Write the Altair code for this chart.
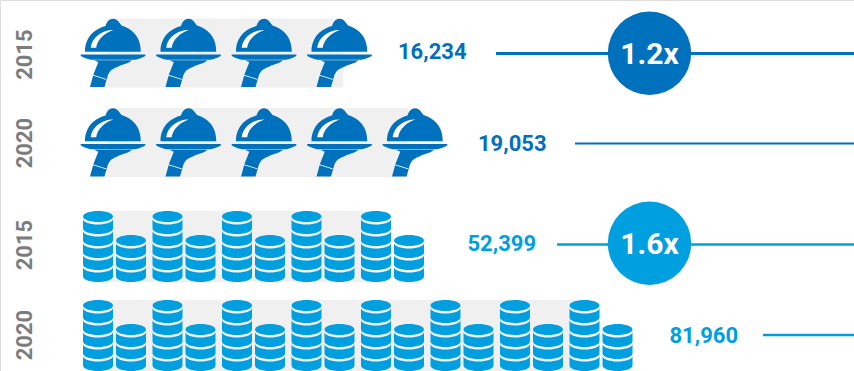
import altair as alt
import pandas as pd

# Figures shown beside each row
years = ["2015", "2020", "2015", "2020"]
values = [16234, 19053, 52399, 81960]
value_labels = ["16,234", "19,053", "52,399", "81,960"]
multiples = ["1.2x", "1.6x"]

# Pictogram rows: icon counts and how far the grey track runs, in icon units
dish_icons = [4, 5]
dish_track_start = [-0.08, -0.08]
dish_track_end = [3.05, 3.91]
stack_pairs = [5, 8]
stack_track_end = [4.0, 7.0]

DARK = "#0071BC"
LIGHT = "#009FDF"
TRACK = "#F0F0F0"
GREY = "#7C7C7C"
FONT = "Roboto"
W, H = 854, 371

# Row placement shared by the pictograms
row_scale = alt.Scale(domain=[0, 1, 2, 3], range=[53, 142.5, 246.5, 335.5])
dish_x = alt.Scale(domain=[0, 4], range=[113, 415])
stack_x = alt.Scale(domain=[0, 7], range=[98, 584.5])

# Symbol paths are in pixels around the icon centre: size=4 gives a unit scale
UNIT = 4
DISH = (
    "M-28,-1.3 C-28.2,-9 -25,-16 -20,-20.5 C-16,-24 -12,-25.8 -7.5,-27 "
    "C-7,-29.5 -5.5,-32 -3,-33.5 C-1,-34.4 1.5,-34.4 3.5,-33.3 "
    "C5.5,-32 7,-29.5 8.5,-27.5 C13,-26 18,-23.5 21.5,-19.5 C25.5,-15 27.9,-8.5 27.7,-1.3 Z "
    "M-32.3,1.6 L32.3,1.6 L32.3,3 C28,5 25,6.5 22,6.8 L-22,6.8 C-25,6.5 -28,5 -32.3,3 Z "
    "M-19,7.2 L19,7.2 C17,9 14,10.5 11,11.3 C8,12.2 6,12.8 4.5,14 C1.5,15 -1.5,16.5 -3,18.5 "
    "C-4.5,20.5 -5.2,22 -5.6,24 L-8.5,34 L-23,34 L-19.5,21.3 L-14.7,9.3 Z"
)
DISH_SHINE = (
    "M-22.3,-5.3 L-16.8,-5.3 C-15.5,-14 -8,-20 0.3,-23 C-9,-23.5 -21,-17 -22.3,-5.3 Z "
    "M-20.2,21.8 L-6.6,26 L-6.9,26.7 L-20.5,22.5 Z"
)


def ellipse(cy, rx=15.0, ry=5.5):
    k = 0.5523
    return (
        f"M{-rx},{cy} C{-rx},{cy - k * ry} {-k * rx},{cy - ry} 0,{cy - ry} "
        f"C{k * rx},{cy - ry} {rx},{cy - k * ry} {rx},{cy} "
        f"C{rx},{cy + k * ry} {k * rx},{cy + ry} 0,{cy + ry} "
        f"C{-k * rx},{cy + ry} {-rx},{cy + k * ry} {-rx},{cy} Z"
    )


def band(cy, rx=15.0, ry=5.5, gap=2.5, depth=9.5):
    k = 0.5523
    top, low = cy + gap, cy + gap + depth
    return (
        f"M{-rx},{top} C{-rx},{top + k * ry} {-k * rx},{top + ry} 0,{top + ry} "
        f"C{k * rx},{top + ry} {rx},{top + k * ry} {rx},{top} L{rx},{low} "
        f"C{rx},{low + k * ry} {k * rx},{low + ry} 0,{low + ry} "
        f"C{-k * rx},{low + ry} {-rx},{low + k * ry} {-rx},{low} Z"
    )


def stack(first, bands, pitch=12.0):
    parts = [ellipse(first)]
    parts += [band(first + i * pitch) for i in range(bands)]
    return " ".join(parts)


TALL_STACK = stack(-30.0, 5)
SHORT_STACK = stack(-6.0, 3)

# Tables for the pictograms
track_dishes = pd.DataFrame(
    {"row": [0, 1], "start": dish_track_start, "end": dish_track_end}
)
track_stacks = pd.DataFrame(
    {"row": [2, 3], "start": [0, 0], "end": stack_track_end}
)
dishes = pd.DataFrame(
    [{"row": r, "icon": i} for r, n in enumerate(dish_icons) for i in range(n)]
)
tall = pd.DataFrame(
    [{"row": r + 2, "pair": i} for r, n in enumerate(stack_pairs) for i in range(n)]
)
short = pd.DataFrame(
    [{"row": r + 2, "pair": i + 0.475} for r, n in enumerate(stack_pairs) for i in range(n)]
)

# Annotation anchors, in pixels
labels = pd.DataFrame(
    {
        "text": value_labels,
        "value": values,
        "x": [398, 478, 467.5, 669.5],
        "y": [51.5, 143.5, 244, 336],
        "color": [DARK, DARK, LIGHT, LIGHT],
    }
)
leaders = pd.DataFrame(
    {
        "x": [496, 575, 557, 763],
        "x2": [W, W, W, W],
        "y": [53.5, 143.5, 244.5, 335],
        "w": [3, 2, 2.5, 2.5],
        "color": [DARK, DARK, LIGHT, LIGHT],
    }
)
badges = pd.DataFrame(
    {"text": multiples, "x": [649.5, 649.5], "y": [53.3, 243.3], "ty": [54.5, 244.5], "color": [DARK, LIGHT]}
)
year_labels = pd.DataFrame(
    {"text": years, "x": [24.5, 24.5, 24.5, 24.5], "y": [54.5, 143, 245, 335]}
)

row_y = alt.Y("row:Q", scale=row_scale, axis=None)
px_x = alt.X("x:Q", scale=None, axis=None)
px_y = alt.Y("y:Q", scale=None, axis=None)


def track(df, scale, height):
    return (
        alt.Chart(df)
        .mark_rule(color=TRACK, strokeWidth=height, strokeCap="butt")
        .encode(alt.X("start:Q", scale=scale, axis=None), alt.X2("end:Q"), y=row_y)
    )


def icons(df, field, scale, shape, color):
    return (
        alt.Chart(df)
        .mark_point(shape=shape, size=UNIT, filled=True, fill=color, opacity=1)
        .encode(alt.X(f"{field}:Q", scale=scale, axis=None), y=row_y)
    )


layers = [
    track(track_dishes, dish_x, 69),
    track(track_stacks, stack_x, 71),
    icons(dishes, "icon", dish_x, DISH, DARK),
    icons(dishes, "icon", dish_x, DISH_SHINE, "#FFFFFF"),
    icons(tall, "pair", stack_x, TALL_STACK, LIGHT),
    icons(short, "pair", stack_x, SHORT_STACK, LIGHT),
    alt.Chart(leaders)
    .mark_rule(strokeCap="butt")
    .encode(
        px_x,
        alt.X2("x2:Q"),
        px_y,
        color=alt.Color("color:N", scale=None, legend=None),
        strokeWidth=alt.StrokeWidth("w:Q", scale=None, legend=None),
    ),
    alt.Chart(badges)
    .mark_circle(size=6956, opacity=1)
    .encode(px_x, px_y, color=alt.Color("color:N", scale=None, legend=None)),
    alt.Chart(badges)
    .mark_text(font=FONT, fontWeight="bold", fontSize=30, color="#FFFFFF", baseline="middle", align="center")
    .encode(px_x, alt.Y("ty:Q", scale=None, axis=None), text="text:N"),
    alt.Chart(labels)
    .mark_text(font=FONT, fontWeight="bold", fontSize=22, baseline="middle", align="left")
    .encode(px_x, px_y, text="text:N", color=alt.Color("color:N", scale=None, legend=None)),
    alt.Chart(year_labels)
    .mark_text(font=FONT, fontWeight="bold", fontSize=22, color=GREY, angle=270, baseline="middle", align="center")
    .encode(px_x, px_y, text="text:N"),
]

chart = (
    alt.layer(*layers)
    .resolve_scale(x="independent", y="independent")
    .properties(width=W, height=H, padding=0, autosize=alt.AutoSizeParams(type="none"))
    .configure_view(stroke=None)
    .configure(background="#FFFFFF")
)

chart.save("out.html", embed_options={"renderer": "svg", "actions": False})
